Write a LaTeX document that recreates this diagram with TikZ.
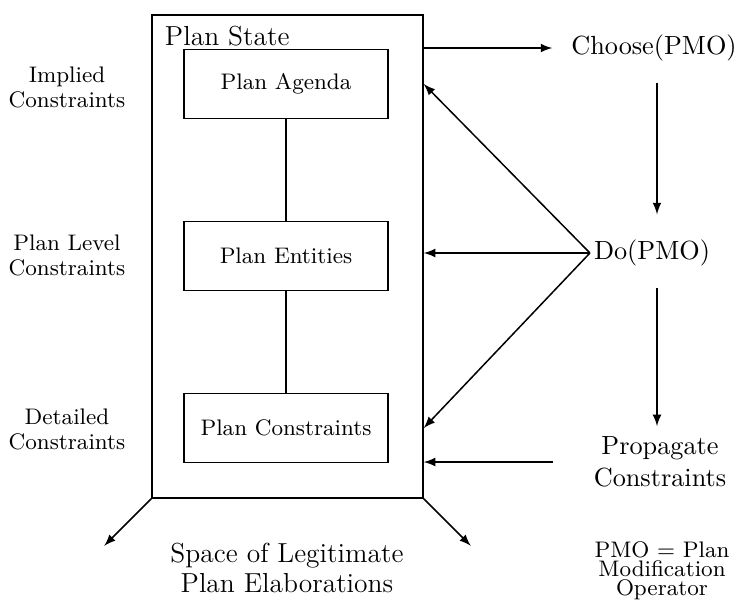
\documentclass[tikz,border=0pt]{standalone}
\usepackage{tikz}
\usetikzlibrary{arrows,calc,positioning}
\tikzset{
%Define standard arrow tip
>=latex,
%Define style for the boxes and labels
every path/.style={line width=0.6pt},
plan box/.style={draw, minimum width=81.6pt, minimum height=27.6pt, font=\small},
state box/.style={draw, minimum width=108.4pt, minimum height=193.2pt},
level label/.style={align=center, font=\fontsize{9}{10}\selectfont},
step label/.style={align=center, font=\fontsize{10.5}{13}\selectfont},
}

\begin{document}
\begin{tikzpicture}[x=0.4pt,y=-0.4pt]
    \useasboundingbox (0,0) rectangle (741,602);
    %Draw the plan state and its parts
    \node[state box] (state) at (287.5,256.5) {};
    \node[anchor=north west, inner sep=0pt, font=\fontsize{11}{13}\selectfont]
        (statelabel) at ([shift={(13,11)}]state.north west) {Plan State};
    \node[plan box] (agenda) at (286,84) {Plan Agenda};
    \node[plan box] (entities) at (286,256) {Plan Entities};
    \node[plan box] (constr) at (286,428) {Plan Constraints};
    \draw (agenda) -- (entities);
    \draw (entities) -- (constr);

    %Levels of constraints on the left
    \node[level label] (implied) at (67,87) {Implied\\Constraints};
    \node[level label] (planlevel) at (67,255) {Plan Level\\Constraints};
    \node[level label] (detailed) at (67,429) {Detailed\\Constraints};

    %The modification cycle on the right
    \node[step label] (choose) at (654,48) {Choose(PMO)};
    \node[step label] (do) at (652,253) {Do(PMO)};
    \node[step label] (prop) at (660,462) {Propagate\\Constraints};

    \draw[->, shorten >=4pt] (state.east |- choose) -- (choose.west);
    \draw[->, shorten <=5pt, shorten >=6.6pt] ([xshift=1.2pt]choose.south) -- ([xshift=1.2pt]choose.south |- do.north);
    \draw[->, shorten <=5pt, shorten >=0.5pt] ([xshift=1.2pt]do.south -| choose.south) -- ([xshift=1.2pt]choose.south |- prop.north);
    %Do(PMO) acts on all three parts
    \draw[->] ([xshift=2pt]do.west) -- (state.east |- agenda);
    \draw[->] ([xshift=2pt]do.west) -- (state.east |- do.west);
    \draw[->] ([xshift=2pt]do.west) -- (state.east |- constr);
    \draw[->] ([xshift=-12.6pt]prop.west) -- (state.east |- prop.west);

    %Spreading out into the space
    \coordinate (spaceleft) at ($(state.south west)+(-47,47)$);
    \coordinate (spaceright) at ($(state.south east)+(47,47)$);
    \draw[->] (state.south west) -- (spaceleft);
    \draw[->] (state.south east) -- (spaceright);
    \node[align=center, font=\fontsize{11}{12}\selectfont] (space) at (287,568)
        {Space of Legitimate\\Plan Elaborations};
    \node[align=center, font=\fontsize{9}{7.6}\selectfont] (pmo) at (662,571)
        {PMO = Plan\\Modification\\Operator};
\end{tikzpicture}
\end{document}
